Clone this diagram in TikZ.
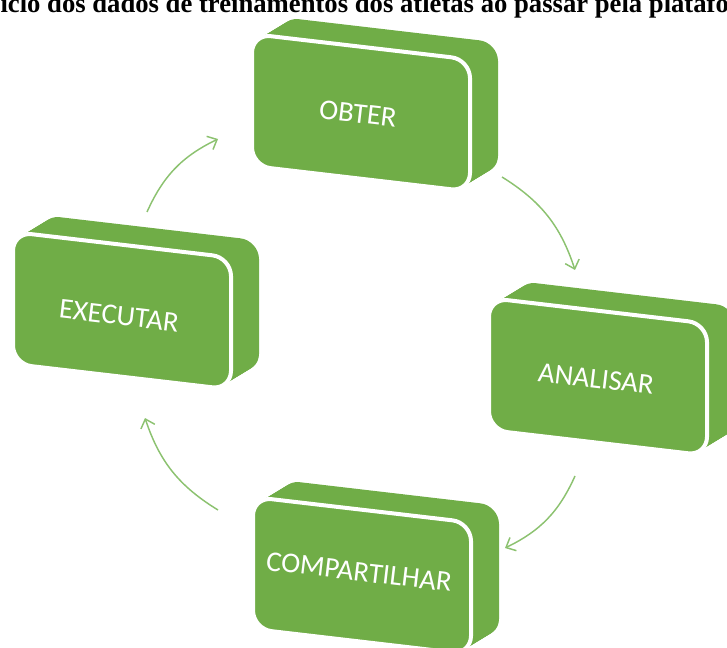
\documentclass[tikz,border=0pt]{standalone}
\usepackage{fontspec}
\newfontfamily\boxfont{Carlito}
\newfontfamily\titlefont{Liberation Serif}
\usetikzlibrary{arrows.meta}
\definecolor{boxgreen}{HTML}{70AD47}
\definecolor{arrowgreen}{HTML}{8CC270}
\tikzset{
  slabface/.style={boxgreen, rounded corners=14pt},
  slabfront/.style={fill=boxgreen, draw=white, line width=3pt, rounded corners=14pt},
  slabtext/.style={font=\boxfont\fontsize{21.5}{25}\selectfont, text=white, rotate=-6.7, inner sep=0pt},
  cyclearrow/.style={draw=arrowgreen, line width=1.1pt, -{Straight Barb[length=6pt,width=11pt]}, bend left=20},
}
% #1 name, #2 x, #3 y, #4 text dx, #5 text dy, #6 text
\newcommand\slab[6]{%
  \foreach \t in {0,1,...,20}{%
    \fill[slabface, shift={(1.4*\t,-0.85*\t)}] (#2,#3) -- ++(218,25.5) -- ++(0,132) -- ++(-218,-25.5) -- cycle;}
  \path[slabfront] (#2,#3) -- ++(218,25.5) -- ++(0,132) -- ++(-218,-25.5) -- cycle;
  \node[slabtext] (#1) at (#2+109+#4,#3+78.75+#5) {#6};
}
\begin{document}
\begin{tikzpicture}[x=0.75pt,y=-0.75pt]
\useasboundingbox (0,0) rectangle (727,648);
\begin{scope}
\clip (0,0) rectangle (727,648);
\node[anchor=base west, font=\titlefont\bfseries\fontsize{20}{22}\selectfont, inner sep=0pt] (title) at (-19,12.5) {Ciclo dos dados de treinamentos dos atletas ao passar pela plataforma};
\slab{obter}{252}{34}{-3}{1}{OBTER}
\slab{analisar}{489}{298}{-2}{2}{ANALISAR}
\slab{compartilhar}{253}{497}{-3}{-4}{COMPARTILHAR}
\slab{executar}{13}{232}{-3}{5}{EXECUTAR}
\end{scope}
\coordinate (a1s) at (147,212);
\coordinate (a1e) at (218,139);
\coordinate (a2s) at (502,177);
\coordinate (a2e) at (575,270);
\coordinate (a3s) at (575,476);
\coordinate (a3e) at (505,548);
\coordinate (a4s) at (218,510);
\coordinate (a4e) at (145,418);
\draw[cyclearrow] (a1s) to (a1e);
\draw[cyclearrow] (a2s) to (a2e);
\draw[cyclearrow] (a3s) to (a3e);
\draw[cyclearrow] (a4s) to (a4e);
\end{tikzpicture}
\end{document}
